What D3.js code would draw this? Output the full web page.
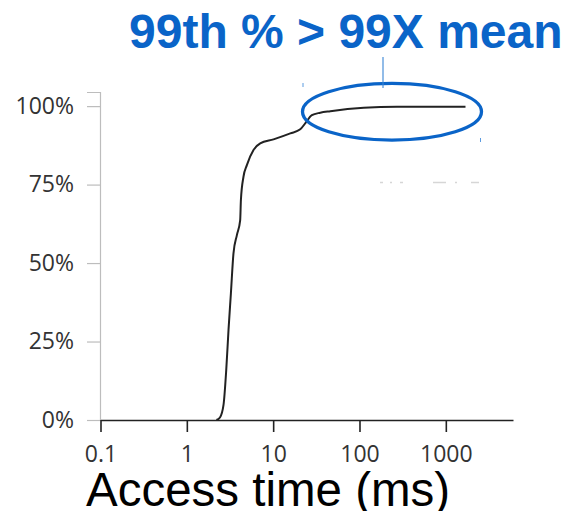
<!DOCTYPE html>
<html>
<head>
<meta charset="utf-8">
<script src="https://cdn.jsdelivr.net/npm/d3@7/dist/d3.min.js"></script>
<style>
  html, body { margin: 0; padding: 0; background: #fff; }
  svg { display: block; }
</style>
</head>
<body>
<svg id="chart" width="562" height="511"></svg>
<script>
// ---- data ----
const accessMs = [2.2, 2.42, 2.66, 2.86, 3.04, 3.24, 3.47, 3.80, 4.15, 4.23, 4.53, 4.96, 5.92, 7.08, 10.1, 15.8, 20.6, 23.5, 28.1, 35.1, 45.9, 112, 272, 1690];
const cumulative = [0, 0.008, 0.048, 0.159, 0.287, 0.404, 0.531, 0.589, 0.637, 0.701, 0.775, 0.812, 0.860, 0.881, 0.894, 0.913, 0.926, 0.945, 0.971, 0.979, 0.984, 0.995, 0.998, 0.998];
const xTickValues = [0.1, 1, 10, 100, 1000];
const xTickLabels = ["0.1", "1", "10", "100", "1000"];
const yTickValues = [0, 0.25, 0.5, 0.75, 1];
const yTickLabels = ["0%", "25%", "50%", "75%", "100%"];
const titleText = "99th % > 99X mean";
const xAxisTitle = "Access time (ms)";
// annotation anchor (data space)
const calloutCenter = { ms: 238, frac: 0.982 };

const svg = d3.select("#chart");

const x = d3.scaleLog().domain([0.1, 6000]).range([100.5, 513]);
const y = d3.scaleLinear().domain([0, 1.045]).range([420, 92]);

const blue = "#0a64c8";

// Y axis (gray)
const yAxis = d3.axisLeft(y)
  .tickValues(yTickValues)
  .tickFormat((d, i) => yTickLabels[i])
  .tickSize(13)
  .tickPadding(13);
const gy = svg.append("g").attr("transform", "translate(100,0)").call(yAxis);
gy.select(".domain").attr("stroke", "#bdbdbd").attr("stroke-width", 1.2);
gy.selectAll(".tick line").attr("stroke", "#bdbdbd").attr("stroke-width", 1.2);
gy.selectAll(".tick text")
  .attr("font-family", "'Open Sans', sans-serif")
  .attr("font-size", 23)
  .attr("fill", "#333");

// X axis (black)
const xAxis = d3.axisBottom(x)
  .tickValues(xTickValues)
  .tickFormat((d, i) => xTickLabels[i])
  .tickSize(12)
  .tickSizeOuter(0)
  .tickPadding(14);
const gx = svg.append("g").attr("transform", "translate(0,420)").call(xAxis);
gx.select(".domain").attr("stroke", "#222").attr("stroke-width", 1.6);
gx.selectAll(".tick line").attr("stroke", "#222").attr("stroke-width", 1.6);
gx.selectAll(".tick text")
  .attr("font-family", "'Open Sans', sans-serif")
  .attr("font-size", 23)
  .attr("fill", "#333");

// CDF curve
const pts = accessMs.map((v, i) => [v, cumulative[i]]);
const line = d3.line()
  .x(d => x(d[0]))
  .y(d => y(d[1]))
  .curve(d3.curveMonotoneX);
svg.append("path")
  .datum(pts)
  .attr("d", line)
  .attr("fill", "none")
  .attr("stroke", "#222")
  .attr("stroke-width", 2)
  .attr("stroke-linejoin", "round");

// faint leftover dashes
svg.append("line")
  .attr("x1", 380).attr("x2", 500).attr("y1", 182.5).attr("y2", 182.5)
  .attr("stroke", "#d6d6d6").attr("stroke-width", 1.5)
  .attr("stroke-dasharray", "3,7,2,8,3,30,13,9,2,14,8,30");

// Annotation ellipse
const cx = x(calloutCenter.ms), cy = y(calloutCenter.frac);
svg.append("ellipse")
  .attr("cx", cx).attr("cy", cy)
  .attr("rx", 89.5).attr("ry", 28.3)
  .attr("fill", "none")
  .attr("stroke", blue)
  .attr("stroke-width", 3.3);
// leader line
svg.append("line")
  .attr("x1", cx - 9).attr("x2", cx - 9)
  .attr("y1", 57).attr("y2", 88)
  .attr("stroke", "#3a86d6").attr("stroke-width", 1.1);
// small selection marks
svg.append("line").attr("x1", cx - 89).attr("x2", cx - 89).attr("y1", 83).attr("y2", 87)
  .attr("stroke", "#5b9be0").attr("stroke-width", 1);
svg.append("line").attr("x1", cx + 88.5).attr("x2", cx + 88.5).attr("y1", 138).attr("y2", 142)
  .attr("stroke", "#5b9be0").attr("stroke-width", 1);

// Title
svg.append("text")
  .attr("x", 129).attr("y", 48)
  .attr("font-family", "'Liberation Sans', Arial, sans-serif")
  .attr("font-weight", "bold")
  .attr("font-size", 48)
  .attr("fill", blue)
  .text(titleText);

// X axis title
svg.append("text")
  .attr("x", 86).attr("y", 506)
  .attr("font-family", "'Liberation Sans', Arial, sans-serif")
  .attr("font-size", 47.5)
  .attr("fill", "#000")
  .text(xAxisTitle);
</script>
</body>
</html>
